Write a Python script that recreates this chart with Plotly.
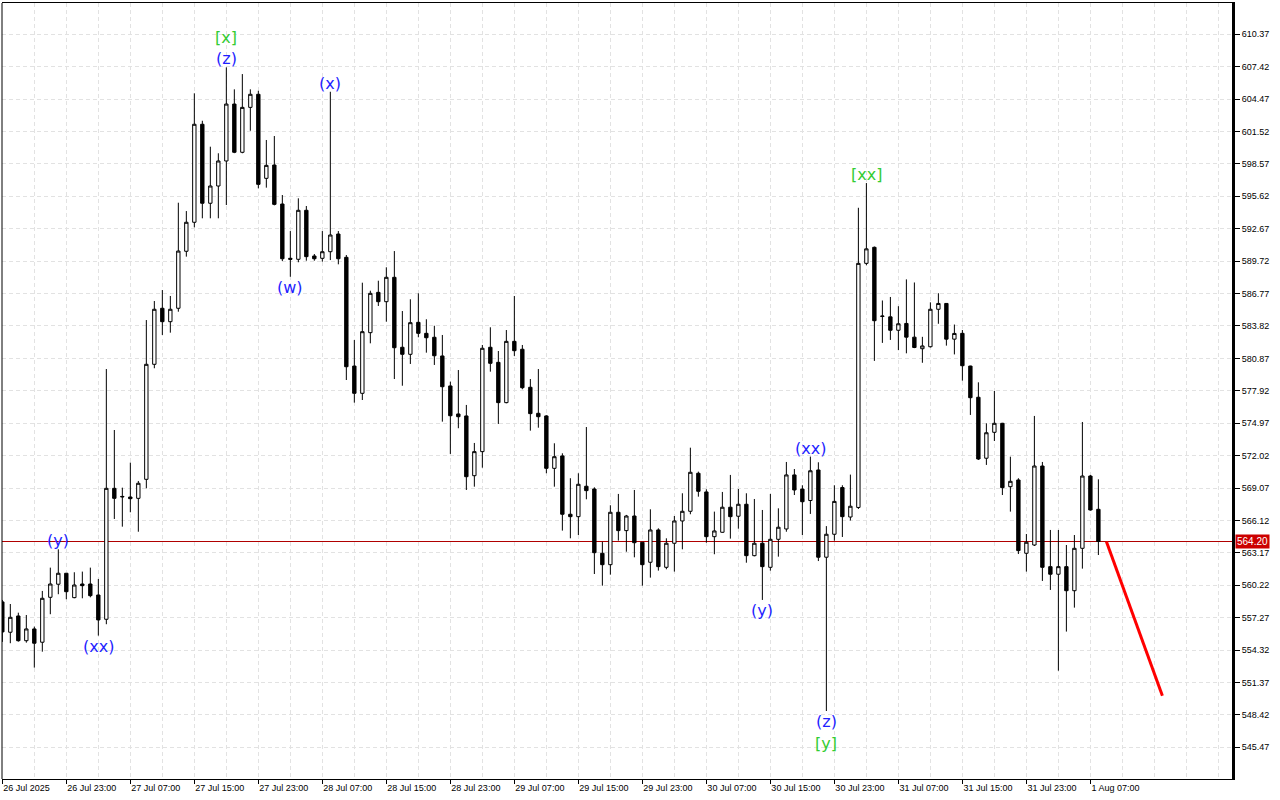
import pandas as pd
import plotly.graph_objects as go

# ---------------- data (hourly candles) ----------------
start_time = "2025-07-26 15:00"

opens = [558.70, 555.94, 557.42, 555.17, 556.24, 555.03, 559.12, 560.31, 561.31, 559.09,
         560.33, 560.33, 559.33, 557.12, 569.04, 568.25, 568.25, 568.13, 569.86, 580.33,
         585.43, 584.21, 585.43, 590.62, 593.26, 602.18, 594.99, 596.56, 598.84, 604.02,
         599.63, 603.72, 604.91, 597.26, 598.47, 594.92, 589.98, 589.89, 594.35, 590.19,
         589.98, 590.58, 592.19, 590.07, 580.17, 577.69, 583.21, 586.88, 586.03, 588.25,
         581.88, 581.24, 584.15, 583.15, 582.79, 581.09, 578.36, 575.81, 575.63, 570.19,
         572.38, 581.88, 580.51, 576.84, 582.42, 581.70, 578.24, 575.87, 575.63, 570.86,
         571.99, 566.68, 566.46, 569.23, 568.98, 563.13, 562.09, 566.86, 565.19, 566.52,
         564.13, 562.31, 565.25, 561.85, 564.04, 566.07, 566.95, 570.41, 568.71, 564.64,
         565.04, 567.32, 566.50, 567.59, 562.91, 564.04, 561.85, 564.40, 565.34, 570.26,
         568.97, 567.93, 570.71, 562.77, 564.86, 569.11, 566.43, 567.30, 589.52, 590.98,
         584.68, 584.65, 583.43, 584.05, 582.80, 581.75, 581.93, 585.34, 585.87, 582.62,
         583.15, 580.17, 577.33, 571.78, 574.14, 574.96, 569.19, 569.80, 563.13, 563.88,
         571.07, 561.91, 561.22, 561.91, 559.72, 563.58, 570.16, 567.13]

highs = [558.88, 558.51, 557.72, 557.51, 556.45, 559.70, 561.82, 563.49, 561.31, 561.40,
         561.46, 561.82, 560.79, 579.90, 574.35, 569.10, 571.38, 569.71, 584.36, 586.09,
         587.09, 586.55, 595.04, 594.28, 605.00, 602.50, 600.14, 599.54, 607.36, 605.36,
         606.75, 605.36, 605.23, 600.75, 601.11, 595.74, 592.46, 595.44, 594.74, 590.37,
         592.46, 605.14, 592.46, 590.28, 582.54, 587.76, 587.03, 587.94, 589.16, 590.64,
         585.18, 586.25, 586.79, 584.43, 583.84, 583.00, 578.75, 579.81, 576.63, 573.17,
         582.09, 583.70, 581.54, 583.45, 586.55, 582.09, 578.99, 579.90, 575.70, 573.14,
         572.23, 569.96, 570.41, 574.62, 569.13, 564.18, 567.50, 568.53, 566.62, 568.89,
         564.13, 567.13, 565.40, 564.49, 566.52, 568.59, 572.74, 570.56, 568.95, 566.92,
         568.71, 570.26, 568.98, 568.59, 568.07, 567.07, 568.53, 567.22, 571.44, 570.80,
         569.32, 571.93, 571.41, 565.60, 569.32, 569.32, 570.29, 594.58, 596.83, 591.05,
         586.14, 586.46, 585.62, 588.06, 587.78, 582.83, 585.97, 586.80, 585.90, 583.95,
         583.45, 580.20, 578.69, 574.96, 577.90, 575.00, 571.92, 569.96, 564.88, 575.63,
         571.44, 565.25, 565.25, 563.88, 564.79, 575.08, 570.26, 569.86]

lows = [555.06, 554.94, 555.08, 554.99, 552.72, 554.17, 557.58, 559.40, 558.94, 559.03,
        559.03, 559.12, 555.63, 556.67, 566.25, 565.55, 566.86, 565.09, 569.04, 579.97,
        583.00, 583.21, 585.12, 590.13, 592.80, 593.62, 593.62, 593.62, 594.83, 599.55,
        599.54, 601.59, 596.35, 596.41, 594.80, 589.73, 588.30, 589.62, 589.76, 589.76,
        589.67, 589.82, 589.43, 578.90, 576.84, 577.08, 582.24, 585.64, 584.21, 578.99,
        578.38, 580.36, 582.79, 581.39, 580.27, 575.11, 572.17, 574.51, 568.89, 569.19,
        570.92, 579.66, 574.90, 576.78, 581.09, 578.06, 574.29, 574.56, 570.41, 569.19,
        565.19, 564.49, 564.79, 568.04, 561.24, 560.18, 561.18, 564.28, 563.27, 562.76,
        560.18, 560.91, 561.55, 561.67, 561.46, 563.49, 566.68, 568.28, 564.09, 563.04,
        565.00, 564.46, 565.37, 562.27, 562.85, 558.88, 561.55, 562.82, 565.09, 568.43,
        564.79, 566.71, 562.42, 548.77, 564.27, 564.61, 566.11, 567.16, 589.35, 580.64,
        582.28, 582.55, 581.62, 581.33, 581.80, 580.47, 581.86, 584.02, 582.03, 581.23,
        578.84, 575.72, 571.62, 571.17, 573.35, 568.43, 566.92, 563.06, 561.46, 563.79,
        560.61, 559.79, 552.44, 556.00, 558.18, 561.73, 567.01, 562.97]

closes = [555.97, 557.30, 555.17, 556.24, 554.94, 559.03, 560.33, 561.31, 559.63, 560.24,
          560.18, 559.27, 557.06, 569.04, 568.13, 568.30, 568.10, 569.50, 580.33, 585.34,
          584.21, 585.34, 590.64, 593.26, 602.18, 594.99, 596.56, 598.84, 604.02, 599.63,
          603.72, 604.91, 596.71, 598.44, 594.89, 589.94, 589.89, 594.35, 590.13, 589.94,
          590.58, 592.10, 589.94, 580.11, 577.69, 583.30, 586.79, 586.03, 588.25, 581.84,
          581.24, 584.12, 583.15, 582.75, 581.11, 578.29, 575.65, 575.56, 570.10, 572.38,
          581.79, 580.42, 576.84, 582.42, 581.57, 578.20, 575.84, 575.56, 570.86, 571.92,
          566.68, 566.46, 569.41, 568.83, 563.18, 562.09, 566.86, 565.19, 566.52, 564.09,
          562.09, 565.25, 561.91, 564.04, 566.07, 566.95, 570.50, 568.77, 564.64, 565.16,
          567.32, 566.46, 567.59, 562.91, 564.04, 561.91, 564.40, 565.50, 570.26, 568.89,
          567.82, 570.64, 562.77, 564.86, 567.85, 566.46, 567.41, 589.52, 590.84, 584.30,
          584.72, 583.43, 584.02, 582.80, 581.86, 582.00, 585.34, 585.87, 582.62, 583.14,
          580.20, 577.29, 571.71, 574.10, 574.96, 569.10, 569.68, 563.37, 564.13, 571.07,
          561.85, 561.22, 561.91, 559.72, 563.58, 570.16, 567.07, 564.20]

current_price = 564.20

# forecast line: hours after the last candle and prices
forecast_hours_ahead = [1, 8]
forecast_prices = [564.20, 550.15]

# wave labels: text, candle index, anchored at 'high'/'low', stack level, colour name
wave_labels = [
    ("[x]", 28, "high", 1, "green"),
    ("(z)", 28, "high", 0, "blue"),
    ("(x)", 41, "high", 0, "blue"),
    ("(w)", 36, "low", 0, "blue"),
    ("(y)", 7, "high", 0, "blue"),
    ("(xx)", 12, "low", 0, "blue"),
    ("(xx)", 101, "high", 0, "blue"),
    ("(y)", 95, "low", 0, "blue"),
    ("(z)", 103, "low", 0, "blue"),
    ("[y]", 103, "low", 1, "green"),
    ("[xx]", 108, "high", 0, "green"),
]

x_tick_labels = ["26 Jul 2025", "26 Jul 23:00", "27 Jul 07:00", "27 Jul 15:00", "27 Jul 23:00",
                 "28 Jul 07:00", "28 Jul 15:00", "28 Jul 23:00", "29 Jul 07:00", "29 Jul 15:00",
                 "29 Jul 23:00", "30 Jul 07:00", "30 Jul 15:00", "30 Jul 23:00", "31 Jul 07:00",
                 "31 Jul 15:00", "31 Jul 23:00", "1 Aug 07:00"]

y_tick_values = [545.47, 548.42, 551.37, 554.32, 557.27, 560.22, 563.17, 566.12, 569.07,
                 572.02, 574.97, 577.92, 580.87, 583.82, 586.77, 589.72, 592.67, 595.62,
                 598.57, 601.52, 604.47, 607.42, 610.37]

# ---------------- figure ----------------
t0 = pd.Timestamp(start_time)
hour = pd.Timedelta(hours=1)
times = pd.date_range(t0, periods=len(opens), freq="h")
x_tick_vals = [t0 + 8 * k * hour for k in range(len(x_tick_labels))]
forecast_times = [times[-1] + h * hour for h in forecast_hours_ahead]

colors = {"blue": "#1f1fff", "green": "#33cc33"}
grid_color = "#e2e2e2"
grid_dash = "4px,3px"
tick_font = dict(family="Liberation Sans, Arial, sans-serif", size=9, color="black")

fig = go.Figure()

fig.add_trace(go.Candlestick(
    x=times, open=opens, high=highs, low=lows, close=closes,
    increasing=dict(line=dict(color="black", width=1), fillcolor="white"),
    decreasing=dict(line=dict(color="black", width=1), fillcolor="black"),
    whiskerwidth=0, hoverinfo="skip", showlegend=False,
))

fig.add_trace(go.Scatter(
    x=forecast_times, y=forecast_prices, mode="lines",
    line=dict(color="#ff0000", width=3), hoverinfo="skip", showlegend=False,
))

annotations = []
for text, idx, where, level, cname in wave_labels:
    if where == "high":
        y = highs[idx]
        yanchor = "bottom"
        yshift = -3 + level * 21
    else:
        y = lows[idx]
        yanchor = "top"
        yshift = 1 - level * 22
    annotations.append(dict(
        x=times[idx], y=y, xref="x", yref="y", text=text, showarrow=False,
        yanchor=yanchor, xanchor="center", yshift=yshift,
        font=dict(family="DejaVu Sans, sans-serif", size=16, color=colors[cname]),
    ))

annotations.append(dict(
    x=1, xref="paper", y=current_price, yref="y", text=f"{current_price:.2f}",
    showarrow=False, xanchor="left", yanchor="middle", xshift=3,
    bgcolor="#cc0000", borderpad=1,
    font=dict(family="Liberation Sans, Arial, sans-serif", size=10, color="white"),
))

fig.update_layout(
    width=1280, height=800,
    margin=dict(l=2, r=48, t=3, b=21),
    paper_bgcolor="white", plot_bgcolor="white",
    boxgap=0.4,
    showlegend=False,
    annotations=annotations,
    shapes=[
        dict(type="line", xref="paper", x0=0, x1=1, yref="y", y0=current_price, y1=current_price,
             line=dict(color="#b00000", width=1), layer="below"),
        dict(type="line", xref="paper", x0=0, x1=0, yref="paper", y0=0, y1=1,
             line=dict(color="black", width=1)),
    ],
    xaxis=dict(
        type="date",
        range=[t0 - 0.04 * hour, t0 + 153.7 * hour],
        tickmode="array", tickvals=x_tick_vals, ticktext=x_tick_labels,
        ticks="outside", ticklen=4, tickcolor="black", tickwidth=1,
        ticklabelposition="outside right",
        tickfont=tick_font,
        showgrid=True, gridcolor=grid_color, griddash=grid_dash, gridwidth=1,
        minor=dict(dtick=4 * 3600 * 1000, tick0=start_time, showgrid=True,
                   gridcolor=grid_color, griddash=grid_dash, ticks=""),
        showline=True, linecolor="black", linewidth=1, mirror=True,
        zeroline=False, rangeslider=dict(visible=False), fixedrange=True,
    ),
    yaxis=dict(
        side="right",
        range=[542.58, 613.22],
        tickmode="array", tickvals=y_tick_values,
        ticktext=[f"{v:.2f}" for v in y_tick_values],
        ticks="outside", ticklen=5, tickcolor="black",
        tickfont=tick_font,
        showgrid=True, gridcolor=grid_color, griddash=grid_dash, gridwidth=1,
        showline=True, linecolor="black", linewidth=3, mirror=False,
        zeroline=False, fixedrange=True,
    ),
)

fig.write_html(
    "out.html",
    config={"displayModeBar": False},
    post_script="document.body.style.margin='0';document.body.style.overflow='hidden';",
)
